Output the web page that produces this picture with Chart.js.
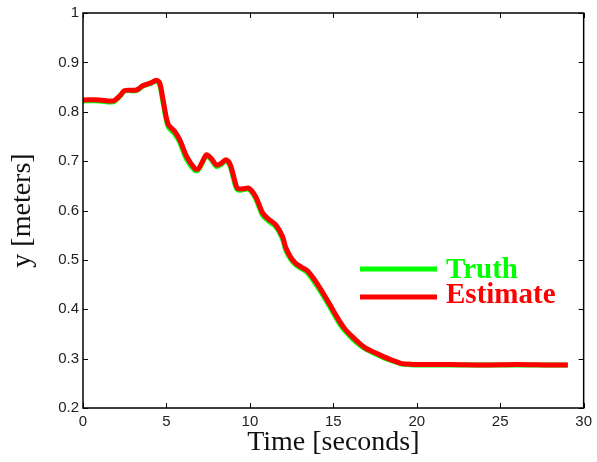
<!DOCTYPE html>
<html>
<head>
<meta charset="utf-8">
<script src="https://cdn.jsdelivr.net/npm/chart.js@4/dist/chart.umd.min.js"></script>
<style>
  html, body { margin: 0; padding: 0; background: #fff; }
  #wrap { width: 597px; height: 462px; }
</style>
</head>
<body>
<div id="wrap"><canvas id="grafico" width="597" height="462"></canvas></div>
<script>
// datos
const tiempo = [0, 1, 1.8, 2.2, 2.5, 3.2, 3.6, 4.1, 4.4, 4.6, 4.8, 5.1, 5.5, 5.8, 6.2, 6.7, 6.9, 7.1, 7.4, 7.7, 8.0, 8.3, 8.55, 8.8, 9.0, 9.25, 9.6, 9.95, 10.35, 10.75, 11.1, 11.55, 11.95, 12.15, 12.45, 12.75, 13.1, 13.45, 13.95, 14.4, 14.75, 15.35, 15.7, 16.15, 16.6, 16.95, 17.5, 18.0, 18.5, 19.1, 19.5, 20, 22, 24, 26, 28, 29.05];
const estimate = [0.824, 0.824, 0.822, 0.832, 0.843, 0.844, 0.853, 0.859, 0.864, 0.858, 0.824, 0.775, 0.760, 0.743, 0.710, 0.685, 0.684, 0.695, 0.713, 0.705, 0.692, 0.696, 0.703, 0.695, 0.673, 0.645, 0.644, 0.645, 0.628, 0.596, 0.583, 0.571, 0.548, 0.525, 0.505, 0.493, 0.485, 0.478, 0.456, 0.432, 0.412, 0.377, 0.360, 0.344, 0.330, 0.321, 0.312, 0.304, 0.297, 0.290, 0.289, 0.288, 0.288, 0.287, 0.288, 0.287, 0.287];
const truth = [0.822, 0.822, 0.820, 0.831, 0.842, 0.843, 0.852, 0.858, 0.862, 0.854, 0.818, 0.770, 0.755, 0.738, 0.704, 0.681, 0.682, 0.693, 0.711, 0.702, 0.689, 0.694, 0.701, 0.691, 0.667, 0.642, 0.642, 0.643, 0.624, 0.591, 0.579, 0.567, 0.543, 0.520, 0.501, 0.490, 0.482, 0.474, 0.451, 0.427, 0.407, 0.372, 0.356, 0.340, 0.327, 0.319, 0.310, 0.302, 0.296, 0.289, 0.288, 0.287, 0.287, 0.287, 0.287, 0.287, 0.287];
const xTicks = [0, 5, 10, 15, 20, 25, 30];
const yTicks = [0.2, 0.3, 0.4, 0.5, 0.6, 0.7, 0.8, 0.9, 1];

const VERDE = "#00ff00";
const ROJO = "#ff0000";

function puntos(ys) {
    return tiempo.map((t, i) => ({ x: t, y: ys[i] }));
}

// marco, ticks hacia adentro y leyenda
const marco = {
    id: "marco",
    afterDraw(chart) {
        const ctx = chart.ctx;
        const a = chart.chartArea;
        const sx = chart.scales.x;
        const sy = chart.scales.y;
        ctx.save();
        ctx.strokeStyle = "#000";
        ctx.lineWidth = 1.5;
        ctx.strokeRect(a.left, a.top, a.right - a.left, a.bottom - a.top);
        ctx.lineWidth = 1;
        ctx.beginPath();
        xTicks.forEach(v => {
            const px = Math.round(sx.getPixelForValue(v)) + 0.5;
            ctx.moveTo(px, a.bottom); ctx.lineTo(px, a.bottom - 5);
            ctx.moveTo(px, a.top); ctx.lineTo(px, a.top + 5);
        });
        yTicks.forEach(v => {
            const py = Math.round(sy.getPixelForValue(v)) + 0.5;
            ctx.moveTo(a.left, py); ctx.lineTo(a.left + 5, py);
            ctx.moveTo(a.right, py); ctx.lineTo(a.right - 5, py);
        });
        ctx.stroke();

        // leyenda
        const items = [["Truth", VERDE, 269, 278], ["Estimate", ROJO, 297, 303]];
        ctx.font = "bold 29px 'Liberation Serif', 'Times New Roman', serif";
        ctx.textBaseline = "alphabetic";
        ctx.textAlign = "left";
        items.forEach(([txt, col, ly, ty]) => {
            ctx.strokeStyle = col;
            ctx.lineWidth = 5;
            ctx.beginPath();
            ctx.moveTo(360, ly); ctx.lineTo(437, ly);
            ctx.stroke();
            ctx.fillStyle = col;
            ctx.fillText(txt, 446, ty);
        });
        ctx.restore();
    }
};

const ctx = document.getElementById("grafico");

new Chart(ctx, {
    type: "line",
    data: {
        datasets: [
            {
                label: "Estimate",
                data: puntos(estimate),
                borderColor: ROJO,
                borderWidth: 5,
                pointRadius: 0,
                tension: 0.3,
                order: 1
            },
            {
                label: "Truth",
                data: puntos(truth),
                borderColor: VERDE,
                borderWidth: 5,
                pointRadius: 0,
                tension: 0.3,
                order: 2
            }
        ]
    },
    options: {
        responsive: false,
        animation: false,
        layout: { padding: { top: 13, right: 11, left: 0, bottom: 0 } },
        plugins: {
            legend: { display: false },
            tooltip: { enabled: false }
        },
        scales: {
            x: {
                type: "linear",
                min: 0,
                max: 30,
                afterBuildTicks: s => { s.ticks = xTicks.map(v => ({ value: v })); },
                afterFit: s => { s.height = 54; },
                grid: { display: false, drawTicks: false },
                border: { display: false },
                ticks: {
                    padding: 5,
                    maxRotation: 0,
                    color: "#222",
                    font: { family: "'Liberation Sans', Arial, sans-serif", size: 15 }
                },
                title: {
                    display: true,
                    text: "Time [seconds]",
                    color: "#111",
                    padding: { top: 0, bottom: 3 },
                    font: { family: "'Liberation Serif', 'Times New Roman', serif", size: 28 }
                }
            },
            y: {
                type: "linear",
                min: 0.2,
                max: 1,
                afterBuildTicks: s => { s.ticks = yTicks.map(v => ({ value: v })); },
                afterFit: s => { s.width = 83; },
                grid: { display: false, drawTicks: false },
                border: { display: false },
                ticks: {
                    padding: 4,
                    color: "#222",
                    font: { family: "'Liberation Sans', Arial, sans-serif", size: 15 },
                    callback: v => String(Math.round(v * 10) / 10)
                },
                title: {
                    display: true,
                    text: "y [meters]",
                    color: "#111",
                    padding: { top: 6, bottom: 0 },
                    font: { family: "'Liberation Serif', 'Times New Roman', serif", size: 28 }
                }
            }
        }
    },
    plugins: [marco]
});
</script>
</body>
</html>
